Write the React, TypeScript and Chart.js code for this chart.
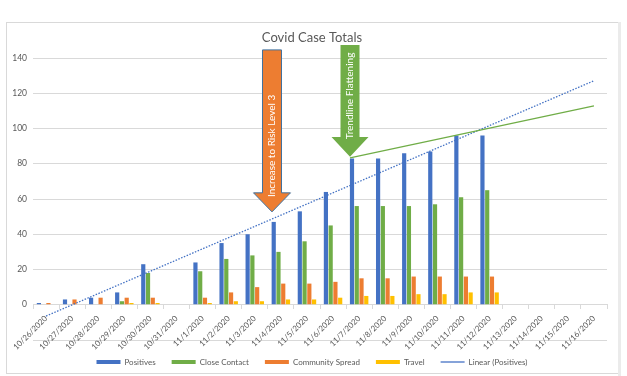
import React, { useEffect, useRef } from "react";
import { Chart, registerables } from "chart.js";

Chart.register(...registerables);

const categories = [
  "10/26/2020", "10/27/2020", "10/28/2020", "10/29/2020", "10/30/2020", "10/31/2020",
  "11/1/2020", "11/2/2020", "11/3/2020", "11/4/2020", "11/5/2020", "11/6/2020",
  "11/7/2020", "11/8/2020", "11/9/2020", "11/10/2020", "11/11/2020", "11/12/2020",
  "11/13/2020", "11/14/2020", "11/15/2020", "11/16/2020",
];
const positives = [1, 3, 4, 7, 23, null, 24, 35, 40, 47, 53, 64, 83, 83, 86, 87, 96, 96, null, null, null, null];
const closeContact = [0, 0, 0, 2, 18, null, 19, 26, 28, 30, 36, 45, 56, 56, 56, 57, 61, 65, null, null, null, null];
const communitySpread = [1, 3, 4, 4, 4, null, 4, 7, 10, 12, 12, 13, 15, 15, 16, 16, 16, 16, null, null, null, null];
const travel = [0, 0, 0, 1, 1, null, 1, 2, 2, 3, 3, 4, 5, 5, 6, 6, 7, 7, null, null, null, null];

// Linear trendline of Positives (values read at first and last category)
const trendStart = { x: 0, y: -6.4 };
const trendEnd = { x: 21, y: 127.1 };
// Hand-drawn "flattening" line
const flatStart = { x: 11.65, y: 83.3 };
const flatEnd = { x: 21, y: 112.8 };

// Value axis runs from -20 (negative labels hidden) to 140
const yTicks = { min: -20, max: 140, step: 20 };
const titleText = "Covid Case Totals";

const arrows = [
  { text: "Increase to Risk Level 3", x: 8.66, tipY: 52.7, baseY: 63.5, topY: 144.6, textY: 90.1, fill: "#ED7D31", stroke: "#41719C" },
  { text: "Trendline Flattening", x: 11.65, tipY: 84, baseY: 95.2, topY: 147.4, textY: 118.5, fill: "#70AD47", stroke: null as string | null },
];

const FONT = "Lato, 'Liberation Sans', sans-serif";
const GRAY = "#595959";
const GRID = "#d9d9d9";

const framePlugin = {
  id: "frame",
  beforeDraw(chart: any) {
    const ctx = chart.ctx;
    ctx.save();
    ctx.fillStyle = "#ffffff";
    ctx.fillRect(0, 0, chart.width, chart.height);
    ctx.strokeStyle = "#d9d9d9";
    ctx.lineWidth = 1;
    ctx.strokeRect(6.5, 22.5, 612, 351);
    ctx.fillStyle = "#ebebeb";
    ctx.fillRect(618, 22, 3, 354);
    ctx.fillStyle = GRAY;
    ctx.font = `13px ${FONT}`;
    ctx.textAlign = "center";
    ctx.textBaseline = "middle";
    ctx.fillText(titleText, 312, 38);
    ctx.restore();
  },
};

const arrowPlugin = {
  id: "arrows",
  afterDatasetsDraw(chart: any) {
    const ctx = chart.ctx;
    const xs = chart.scales.x;
    const ys = chart.scales.y;
    ctx.save();
    for (const a of arrows) {
      const cx = xs.getPixelForValue(a.x);
      const tip = ys.getPixelForValue(a.tipY);
      const base = ys.getPixelForValue(a.baseY);
      const top = ys.getPixelForValue(a.topY);
      const bw = 9.5;
      const hw = 18.5;
      ctx.beginPath();
      ctx.moveTo(cx - bw, top);
      ctx.lineTo(cx + bw, top);
      ctx.lineTo(cx + bw, base);
      ctx.lineTo(cx + hw, base);
      ctx.lineTo(cx, tip);
      ctx.lineTo(cx - hw, base);
      ctx.lineTo(cx - bw, base);
      ctx.closePath();
      ctx.fillStyle = a.fill;
      ctx.fill();
      if (a.stroke) {
        ctx.strokeStyle = a.stroke;
        ctx.lineWidth = 1;
        ctx.stroke();
      }
      const ty = ys.getPixelForValue(a.textY);
      ctx.save();
      ctx.translate(cx, ty);
      ctx.rotate(-Math.PI / 2);
      ctx.fillStyle = "#ffffff";
      ctx.font = `10px ${FONT}`;
      ctx.textAlign = "center";
      ctx.textBaseline = "middle";
      ctx.fillText(a.text, 0, 0);
      ctx.restore();
    }
    ctx.restore();
  },
};

export default function App() {
  const ref = useRef<HTMLCanvasElement | null>(null);
  useEffect(() => {
    if (!ref.current) return;
    const barDs = (label: string, data: (number | null)[], color: string) => ({
      type: "bar" as const,
      label,
      data,
      backgroundColor: color,
      borderWidth: 0,
      categoryPercentage: 0.73,
      barPercentage: 0.88,
      order: 2,
    });
    const chart = new Chart(ref.current, {
      type: "bar",
      data: {
        labels: categories,
        datasets: [
          barDs("Positives", positives, "#4472C4"),
          barDs("Close Contact", closeContact, "#70AD47"),
          barDs("Community Spread", communitySpread, "#ED7D31"),
          barDs("Travel", travel, "#FFC000"),
          {
            type: "line",
            label: "Linear (Positives)",
            data: [trendStart, trendEnd],
            parsing: false,
            borderColor: "#4472C4",
            backgroundColor: "#4472C4",
            borderWidth: 1.3,
            borderDash: [1.5, 1.5],
            pointRadius: 0,
            clip: false,
            order: 1,
          } as any,
          {
            type: "line",
            label: "",
            data: [flatStart, flatEnd],
            parsing: false,
            borderColor: "#70AD47",
            borderWidth: 1.3,
            pointRadius: 0,
            clip: false,
            order: 0,
          } as any,
        ],
      },
      options: {
        responsive: false,
        animation: false,
        layout: { padding: { left: 0, right: 3, top: 58, bottom: 0 } },
        scales: {
          x: {
            type: "category",
            position: { y: 0 },
            offset: true,
            grid: { drawOnChartArea: false, offset: true, tickLength: 4, color: GRID },
            border: { color: GRID },
            ticks: {
              autoSkip: false,
              maxRotation: 45,
              minRotation: 45,
              padding: 5,
              color: GRAY,
              font: { family: FONT, size: 8 },
            },
          },
          y: {
            min: yTicks.min,
            max: yTicks.max,
            ticks: {
              stepSize: yTicks.step,
              padding: 6,
              color: GRAY,
              font: { family: FONT, size: 8.5 },
              callback: (v: any) => (v < 0 ? "" : String(v)),
            },
            grid: { color: GRID, drawTicks: false },
            border: { display: false },
            afterFit: (s: any) => { s.width = 33; },
          },
          yPad: {
            type: "linear",
            position: "right",
            display: true,
            grid: { display: false, drawTicks: false },
            border: { display: false },
            ticks: { display: false },
            afterFit: (s: any) => { s.width = 17; },
          },
        },
        plugins: {
          title: { display: false },
          tooltip: { enabled: false },
          legend: {
            position: "bottom",
            title: { display: true, text: "", font: { size: 1 }, padding: { top: 0, bottom: 0.8 } },
            labels: {
              color: GRAY,
              font: { family: FONT, size: 8 },
              usePointStyle: true,
              pointStyleWidth: 24,
              boxHeight: 4,
              padding: 16,
              sort: (a: any, b: any) => a.datasetIndex - b.datasetIndex,
              generateLabels: (c: any) => {
                const items = Chart.defaults.plugins.legend.labels.generateLabels(c);
                return items
                  .filter((i: any) => i.text)
                  .map((i: any) => ({
                    ...i,
                    pointStyle: i.datasetIndex === 4 ? "line" : "rect",
                    lineWidth: i.datasetIndex === 4 ? 1.3 : 0,
                  }));
              },
            },
          },
        },
      },
      plugins: [framePlugin, arrowPlugin],
    } as any);
    return () => chart.destroy();
  }, []);
  return (
    <div style={{ position: "absolute", left: 0, top: 0, width: 627, height: 376 }}>
      <canvas ref={ref} width={627} height={376} style={{ display: "block" }} />
    </div>
  );
}
